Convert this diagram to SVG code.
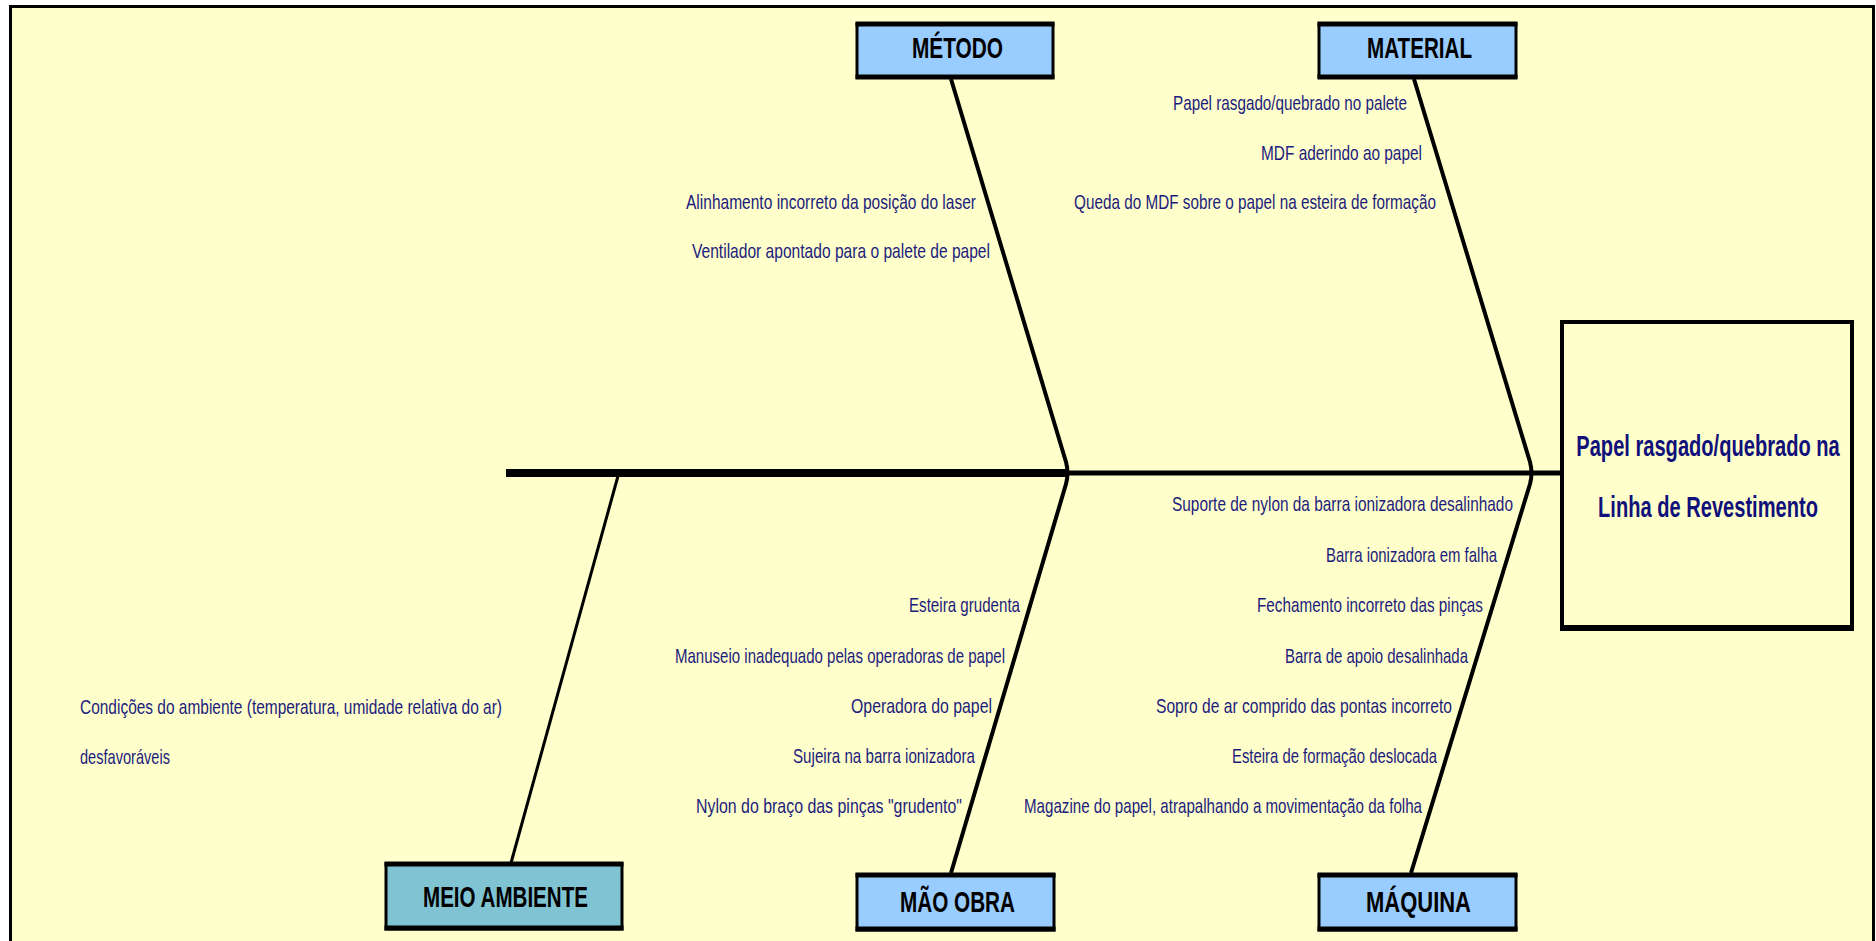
<svg xmlns="http://www.w3.org/2000/svg" width="1876" height="941" viewBox="0 0 1876 941">
<style>
.cause{font-family:"Liberation Sans",Arial,sans-serif;font-size:21px;fill:#1c1c7c;}
.cat{font-family:"Liberation Sans",Arial,sans-serif;font-size:30px;font-weight:bold;fill:#000;}
.res{font-family:"Liberation Sans",Arial,sans-serif;font-size:30px;font-weight:bold;fill:#10107a;text-anchor:middle;}
.box{stroke:#000;stroke-width:3;}
.edge{stroke:#000;stroke-width:5;}
.bone{fill:none;stroke:#000;stroke-width:4;stroke-linejoin:round;}
</style>
<rect x="0" y="0" width="1876" height="941" fill="#ffffff"/>
<rect x="10.5" y="6.5" width="1863" height="940" fill="#ffffcc" stroke="#000" stroke-width="3"/>
<g id="connectors">
<line x1="506" y1="473" x2="1068" y2="473" stroke="#000" stroke-width="8"/>
<line x1="1068" y1="473" x2="1562" y2="473" stroke="#000" stroke-width="5"/>
<path class="bone" d="M951,79 L1066,462 Q1069,473 1066,484 L951,873"/>
<path class="bone" d="M1414,79 L1530,462 Q1533,473 1530,484 L1411,873"/>
<path class="bone" style="stroke-width:3" d="M618,476 L511,863"/>
</g>
<g id="node-metodo">
<rect class="box" x="857" y="24" width="196" height="53" fill="#99ccff"/>
<line class="edge" x1="855.5" y1="24" x2="1054.5" y2="24"/>
<line class="edge" x1="855.5" y1="77" x2="1054.5" y2="77"/>
<text class="cat" x="912" y="58" textLength="91" lengthAdjust="spacingAndGlyphs">MÉTODO</text>
</g>
<g id="node-material">
<rect class="box" x="1319" y="24" width="197" height="53" fill="#99ccff"/>
<line class="edge" x1="1317.5" y1="24" x2="1517.5" y2="24"/>
<line class="edge" x1="1317.5" y1="77" x2="1517.5" y2="77"/>
<text class="cat" x="1367" y="58" textLength="105" lengthAdjust="spacingAndGlyphs">MATERIAL</text>
</g>
<g id="node-mao-obra">
<rect class="box" x="857" y="875" width="197" height="55" fill="#99ccff"/>
<line class="edge" x1="855.5" y1="875" x2="1055.5" y2="875"/>
<line class="edge" x1="855.5" y1="929" x2="1055.5" y2="929"/>
<text class="cat" x="900" y="912" textLength="115" lengthAdjust="spacingAndGlyphs">MÃO OBRA</text>
</g>
<g id="node-maquina">
<rect class="box" x="1319" y="875" width="197" height="55" fill="#99ccff"/>
<line class="edge" x1="1317.5" y1="875" x2="1517.5" y2="875"/>
<line class="edge" x1="1317.5" y1="929" x2="1517.5" y2="929"/>
<text class="cat" x="1366" y="912" textLength="105" lengthAdjust="spacingAndGlyphs">MÁQUINA</text>
</g>
<g id="node-meio-ambiente">
<rect class="box" x="386" y="864" width="236" height="65" fill="#80c4d4"/>
<line class="edge" x1="384.5" y1="864" x2="623.5" y2="864"/>
<line class="edge" x1="384.5" y1="928" x2="623.5" y2="928"/>
<text class="cat" x="423" y="907" textLength="165" lengthAdjust="spacingAndGlyphs">MEIO AMBIENTE</text>
</g>
<g id="node-result">
<rect x="1562" y="322" width="290" height="307" fill="none" stroke="#000" stroke-width="4"/>
<line x1="1560" y1="628" x2="1854" y2="628" stroke="#000" stroke-width="6"/>
<text class="res" transform="translate(1708,456) scale(0.67,1)">Papel rasgado/quebrado na</text>
<text class="res" transform="translate(1708,517) scale(0.67,1)">Linha de Revestimento</text>
</g>
<g id="causes-metodo">
<text class="cause" x="686" y="209" textLength="290" lengthAdjust="spacingAndGlyphs">Alinhamento incorreto da posição do laser</text>
<text class="cause" x="692" y="258" textLength="298" lengthAdjust="spacingAndGlyphs">Ventilador apontado para o palete de papel</text>
</g>
<g id="causes-material">
<text class="cause" x="1173" y="110" textLength="234" lengthAdjust="spacingAndGlyphs">Papel rasgado/quebrado no palete</text>
<text class="cause" x="1261" y="160" textLength="161" lengthAdjust="spacingAndGlyphs">MDF aderindo ao papel</text>
<text class="cause" x="1074" y="209" textLength="362" lengthAdjust="spacingAndGlyphs">Queda do MDF sobre o papel na esteira de formação</text>
</g>
<g id="causes-maquina">
<text class="cause" x="1172" y="511" textLength="341" lengthAdjust="spacingAndGlyphs">Suporte de nylon da barra ionizadora desalinhado</text>
<text class="cause" x="1326" y="562" textLength="171" lengthAdjust="spacingAndGlyphs">Barra ionizadora em falha</text>
<text class="cause" x="1257" y="612" textLength="226" lengthAdjust="spacingAndGlyphs">Fechamento incorreto das pinças</text>
<text class="cause" x="1285" y="663" textLength="183" lengthAdjust="spacingAndGlyphs">Barra de apoio desalinhada</text>
<text class="cause" x="1156" y="713" textLength="296" lengthAdjust="spacingAndGlyphs">Sopro de ar comprido das pontas incorreto</text>
<text class="cause" x="1232" y="763" textLength="205" lengthAdjust="spacingAndGlyphs">Esteira de formação deslocada</text>
<text class="cause" x="1024" y="813" textLength="398" lengthAdjust="spacingAndGlyphs">Magazine do papel, atrapalhando a movimentação da folha</text>
</g>
<g id="causes-mao-obra">
<text class="cause" x="909" y="612" textLength="111" lengthAdjust="spacingAndGlyphs">Esteira grudenta</text>
<text class="cause" x="675" y="663" textLength="330" lengthAdjust="spacingAndGlyphs">Manuseio inadequado pelas operadoras de papel</text>
<text class="cause" x="851" y="713" textLength="141" lengthAdjust="spacingAndGlyphs">Operadora do papel</text>
<text class="cause" x="793" y="763" textLength="182" lengthAdjust="spacingAndGlyphs">Sujeira na barra ionizadora</text>
<text class="cause" x="696" y="813" textLength="266" lengthAdjust="spacingAndGlyphs">Nylon do braço das pinças "grudento"</text>
</g>
<g id="causes-meio-ambiente">
<text class="cause" x="80" y="714" textLength="422" lengthAdjust="spacingAndGlyphs">Condições do ambiente (temperatura, umidade relativa do ar)</text>
<text class="cause" x="80" y="764" textLength="90" lengthAdjust="spacingAndGlyphs">desfavoráveis</text>
</g>
</svg>
